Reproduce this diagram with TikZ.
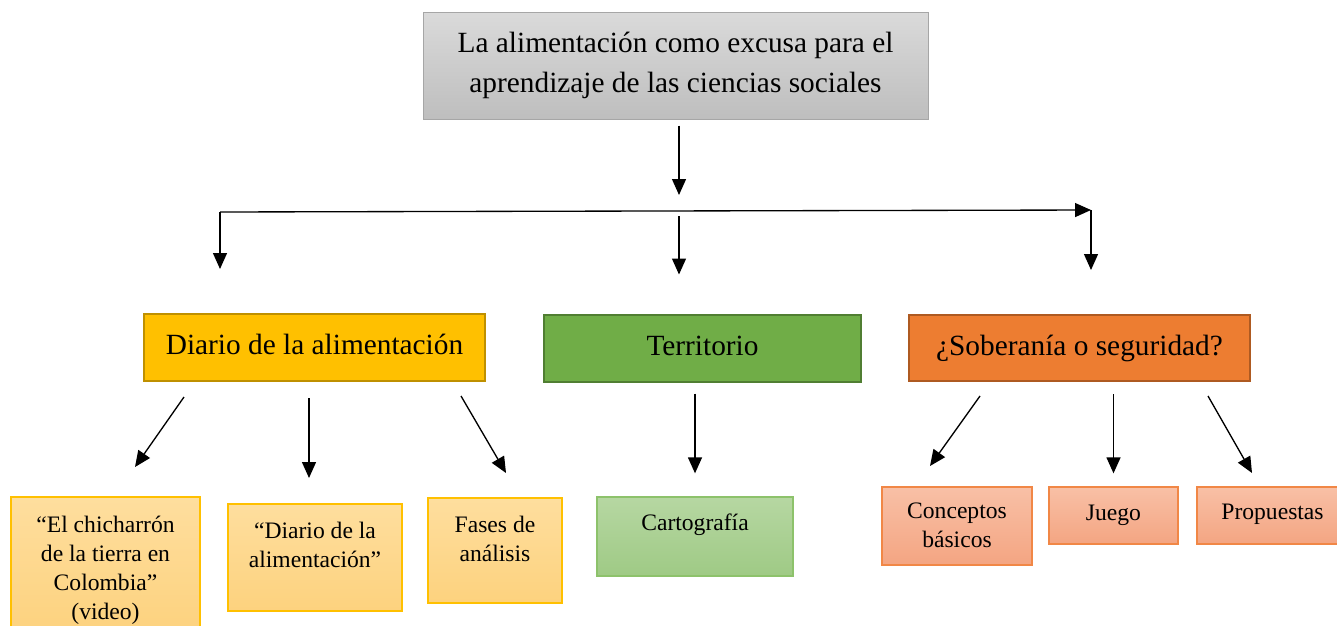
\documentclass[tikz,border=0pt]{standalone}
\usepackage{fontspec}
\setmainfont{Liberation Serif}
\usetikzlibrary{arrows.meta}

\definecolor{titletop}{RGB}{218,218,218}
\definecolor{titlebot}{RGB}{190,190,190}
\definecolor{titleline}{RGB}{166,166,166}
\definecolor{diariofill}{RGB}{255,192,0}
\definecolor{diarioline}{RGB}{191,144,0}
\definecolor{terrfill}{RGB}{112,173,71}
\definecolor{terrline}{RGB}{80,126,50}
\definecolor{sobfill}{RGB}{237,125,49}
\definecolor{sobline}{RGB}{174,90,33}
\definecolor{yeltop}{RGB}{254,222,158}
\definecolor{yelbot}{RGB}{253,210,126}
\definecolor{yelline}{RGB}{255,192,0}
\definecolor{grntop}{RGB}{182,215,162}
\definecolor{grnbot}{RGB}{159,202,133}
\definecolor{grnline}{RGB}{141,194,107}
\definecolor{orgtop}{RGB}{248,192,166}
\definecolor{orgbot}{RGB}{244,165,130}
\definecolor{orgline}{RGB}{241,135,70}

\tikzset{every picture/.style={line width=0.75pt}}
\tikzset{
	arr/.style={-{Triangle[length=12pt,width=10.5pt]}, line width=1pt},
	titlebox/.style={draw=titleline, top color=titletop, bottom color=titlebot, inner sep=0pt, align=center,
		minimum width=378.75pt, minimum height=80.25pt, font=\fontsize{22}{30}\selectfont},
	lvltwo/.style={draw, line width=1.5pt, inner sep=0pt, minimum height=50.25pt,
		text height=15.4pt, text depth=4.8pt, font=\fontsize{22}{26}\selectfont},
	lvlthree/.style={draw, line width=1pt, inner sep=0pt, font=\fontsize{17.7}{21.75}\selectfont},
	yelbox/.style={lvlthree, draw=yelline, top color=yeltop, bottom color=yelbot},
	grnbox/.style={lvlthree, draw=grnline, top color=grntop, bottom color=grnbot},
	orgbox/.style={lvlthree, draw=orgline, top color=orgtop, bottom color=orgbot}}

% width, height, first baseline, text
\newcommand{\boxtext}[4]{\parbox[c][#2][t]{#1}{\centering\rule{0pt}{#3}#4\par}}

\begin{document}
\begin{tikzpicture}[x=0.75pt,y=0.75pt,yscale=-1,xscale=1]
	\useasboundingbox (0,0) rectangle (1337,625);

	% Title
	\node[titlebox] (title) at (675.5,65.5) {La alimentación como excusa para el\\aprendizaje de las ciencias sociales};

	% Second level
	\node[lvltwo, fill=diariofill, draw=diarioline, minimum width=255.75pt] (diario) at (314.5,347.5) {Diario de la alimentación};
	\node[lvltwo, fill=terrfill, draw=terrline, minimum width=237.75pt] (terr) at (702.5,348) {Territorio};
	\node[lvltwo, fill=sobfill, draw=sobline, minimum width=255.75pt, minimum height=49.5pt] (sob) at (1079.5,348) {¿Soberanía o seguridad?};

	% Third level
	\node[yelbox] (chich) at (105.5,566) {\boxtext{141.75pt}{103.5pt}{26.25pt}{“El chicharrón\\de la tierra en\\Colombia”\\(video)}};
	\node[yelbox] (diarioq) at (315,557.5) {\boxtext{130.5pt}{80.25pt}{25.5pt}{“Diario de la\\alimentación”}};
	\node[yelbox] (fases) at (495,550.5) {\boxtext{100.5pt}{78.75pt}{25.5pt}{Fases de\\análisis}};
	\node[grnbox] (carto) at (695,536.5) {\boxtext{147pt}{59.25pt}{24.75pt}{Cartografía}};
	\node[orgbox] (concep) at (957,526) {\boxtext{112.5pt}{58.5pt}{23.25pt}{Conceptos\\básicos}};
	\node[orgbox] (juego) at (1113.5,515.5) {\boxtext{96.75pt}{42.75pt}{24.75pt}{Juego}};
	\node[orgbox] (prop) at (1268.5,515.5) {\boxtext{107.25pt}{42.75pt}{24pt}{\hspace*{6pt}Propuestas}};

	% Bus line
	\coordinate (busL) at (220,212);
	\coordinate (busM) at (679,211);
	\coordinate (busR) at (1091,210);

	\draw[arr, shorten <=4.5pt, shorten >=12pt] (title.south -| busM) -- (busM);
	\draw[arr] (busL) -- (busR);
	\draw[arr, shorten >=33pt] (busL) -- (busL |- diario.north);
	\draw[arr, shorten <=3.75pt, shorten >=29.25pt] (busM) -- (busM |- terr.north);
	\draw[arr, shorten >=33pt] (busR) -- (busR |- sob.north);

	% Diagonal arrow ends
	\coordinate (d1s) at (184,397);
	\coordinate (d1e) at (135,467);
	\coordinate (d2) at (309,504);
	\coordinate (d3s) at (461,396);
	\coordinate (d3e) at (506,473);
	\coordinate (s1s) at (980,396);
	\coordinate (s1e) at (930,466);
	\coordinate (s3s) at (1208,396);
	\coordinate (s3e) at (1252,473);

	% Arrows to third level
	\draw[arr] (d1s) -- (d1e);
	\draw[arr, shorten <=12pt, shorten >=19.5pt] (diario.south -| d2) -- (d2);
	\draw[arr] (d3s) -- (d3e);
	\draw[arr, shorten <=8.25pt, shorten >=17.25pt] (terr.south -| carto.north) -- (carto.north);
	\draw[arr] (s1s) -- (s1e);
	\draw[arr, shorten <=9pt, shorten >=9.75pt] (sob.south -| juego.north) -- (juego.north);
	\draw[arr] (s3s) -- (s3e);

\end{tikzpicture}
\end{document}
